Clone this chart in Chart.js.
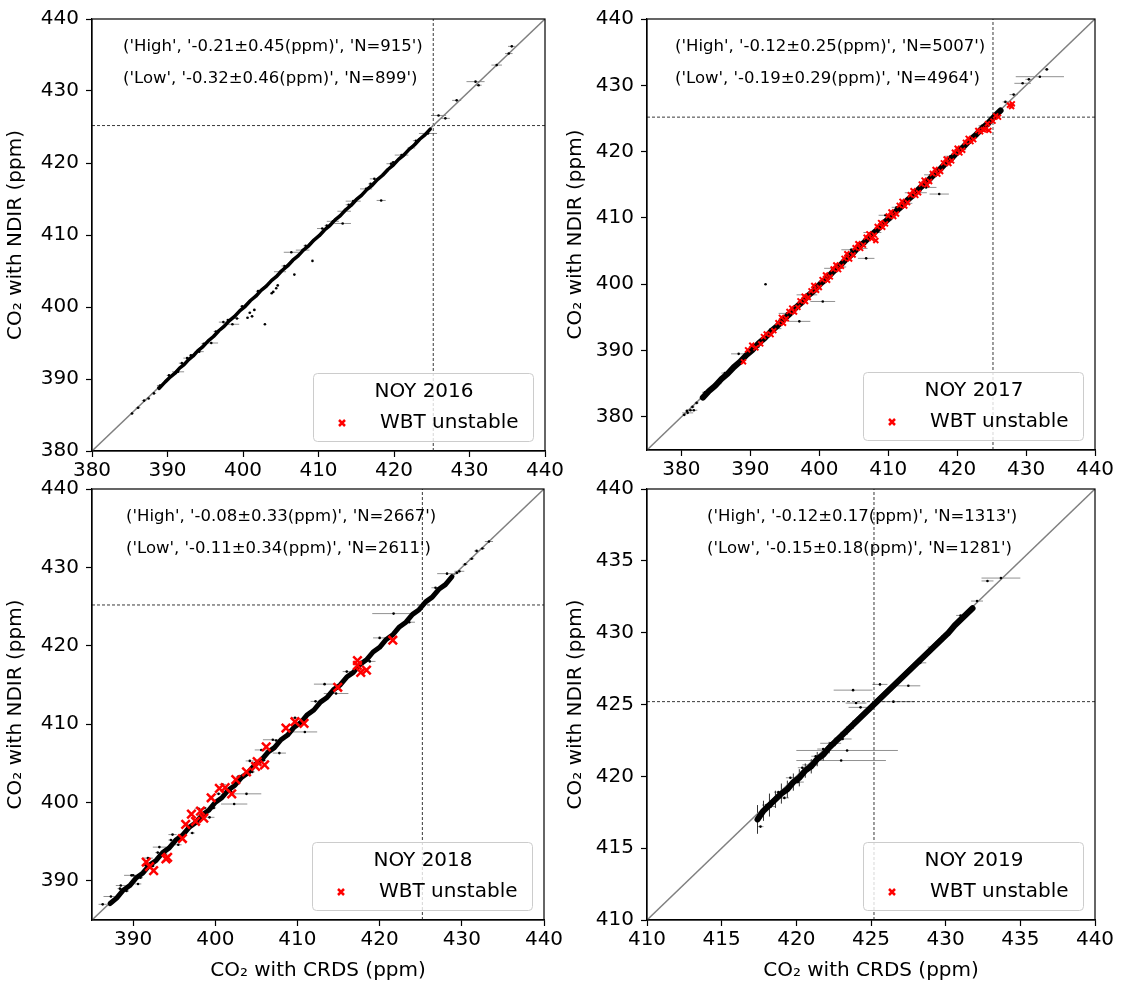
<!DOCTYPE html>
<html>
<head>
<meta charset="utf-8">
<script src="https://cdn.jsdelivr.net/npm/chart.js@4.4.1/dist/chart.umd.min.js"></script>
<style>
  body { margin: 0; background: #fff; }
  #fig { position: relative; width: 1125px; height: 987px; overflow: hidden; background: #fff; }
  canvas { position: absolute; }
</style>
</head>
<body>
<div id="fig">
  <canvas id="c2016" width="600" height="490" style="left:0px;top:0px"></canvas>
  <canvas id="c2017" width="565" height="490" style="left:560px;top:0px"></canvas>
  <canvas id="c2018" width="600" height="517" style="left:0px;top:470px"></canvas>
  <canvas id="c2019" width="565" height="517" style="left:560px;top:470px"></canvas>
</div>
<script>
// ---- dados ----
var titulos = ["NOY 2016", "NOY 2017", "NOY 2018", "NOY 2019"];
var linhaHigh = ["('High', '-0.21±0.45(ppm)', 'N=915')", "('High', '-0.12±0.25(ppm)', 'N=5007')",
                 "('High', '-0.08±0.33(ppm)', 'N=2667')", "('High', '-0.12±0.17(ppm)', 'N=1313')"];
var linhaLow = ["('Low', '-0.32±0.46(ppm)', 'N=899')", "('Low', '-0.19±0.29(ppm)', 'N=4964')",
                "('Low', '-0.11±0.34(ppm)', 'N=2611')", "('Low', '-0.15±0.18(ppm)', 'N=1281')"];
var eixoMin = [380, 375, 385, 410];
var eixoMax = [440, 440, 440, 440];
var ticks2016 = [380, 390, 400, 410, 420, 430, 440];
var ticks2017 = [380, 390, 400, 410, 420, 430, 440];
var ticks2018 = [390, 400, 410, 420, 430, 440];
var ticks2019 = [410, 415, 420, 425, 430, 435, 440];
var valorRef = 425.2;

// 2016
var banda2016X = [388.9,389.7,390.4,391.0,391.6,392.2,392.8,393.4,394.0,394.7,395.4,396.1,396.8,397.5,398.2,398.9,399.6,400.3,401.0,401.7,402.4,403.1,403.8,404.5,405.2,405.9,406.6,407.3,408.0,408.7,409.4,410.1,410.8,411.5,412.2,412.9,413.6,414.3,415.0,415.7,416.4,417.1,417.8,418.5,419.2,419.9,420.6,421.3,422.0,422.7,423.4,424.1,424.8];
var banda2016Y = [388.7,389.6,390.3,390.8,391.5,392.0,392.7,393.2,393.9,394.5,395.3,395.9,396.7,397.3,398.1,398.7,399.5,400.1,400.9,401.5,402.3,402.9,403.7,404.3,405.1,405.7,406.5,407.1,407.9,408.5,409.3,409.9,410.7,411.3,412.1,412.7,413.5,414.1,414.9,415.5,416.3,416.9,417.7,418.3,419.1,419.7,420.5,421.1,421.9,422.5,423.3,423.9,424.7];
var pts2016X = [385.3,386.1,386.9,387.5,388.2,388.8,389.0,390.2,391.4,391.9,392.6,393.1,394.2,394.8,395.8,396.4,397.4,398.0,398.6,399.2,399.9,400.6,400.9,401.2,401.5,402.0,402.9,403.8,404.0,404.4,404.6,404.9,405.5,406.4,406.8,407.9,408.3,409.2,410.5,411.1,411.9,413.2,413.4,414.0,414.6,416.3,416.9,417.4,418.3,419.6,419.9,421.0,422.3,422.9,424.5,425.9,426.8,428.3,430.8,431.2,433.6,435.2,435.6];
var pts2016Y = [385.2,386.0,387.0,387.3,388.0,388.8,389.1,390.5,391.0,392.2,392.9,393.3,393.8,394.9,395.0,396.6,397.9,398.2,397.6,398.4,400.1,398.5,399.2,398.7,399.6,402.2,397.6,401.9,402.1,402.6,403.0,404.9,405.7,407.6,404.5,407.9,408.5,406.4,410.9,411.3,411.9,411.6,413.3,414.2,414.7,416.4,417.1,417.8,414.8,419.9,420.1,421.1,422.1,423.1,424.1,426.6,426.2,428.7,431.3,430.8,433.6,435.2,436.2];
var pts2016Err = [0.2,0.3,0.3,0.2,0.3,0.2,0.4,0.3,0.8,0.4,0.5,0.2,0.6,0.3,0.9,0.3,0.6,0.2,0.9,0.3,0.3,0.2,0.2,0.2,0.2,0.3,0,0,0.2,0,0.2,0.8,0.4,1.0,0,0.9,0.3,0,0.7,0.3,0.8,1.1,0.9,0.4,1.0,0.8,0.3,0.6,0.6,0.6,0.3,0.9,0.5,0.4,1.2,1.0,0.6,0.6,1.2,0.4,0.7,0.5,0.5];
var wbt2016X = [];
var wbt2016Y = [];

// 2017
var banda2017X = [383.1,384.0,384.9,385.8,386.7,387.6,388.5,389.4,390.3,391.2,392.1,393.0,393.9,394.8,395.7,396.6,397.5,398.4,399.3,400.2,401.1,402.0,402.9,403.8,404.7,405.6,406.5,407.4,408.3,409.2,410.1,411.0,411.9,412.8,413.7,414.6,415.5,416.4,417.3,418.2,419.1,420.0,420.9,421.8,422.7,423.6,424.5,425.4,426.3];
var banda2017Y = [382.9,383.9,384.7,385.7,386.5,387.5,388.3,389.3,390.1,391.1,391.9,392.9,393.7,394.7,395.5,396.5,397.3,398.3,399.1,400.1,400.9,401.9,402.7,403.7,404.5,405.5,406.3,407.3,408.1,409.1,409.9,410.9,411.7,412.7,413.5,414.5,415.3,416.3,417.1,418.1,418.9,419.9,420.7,421.7,422.5,423.5,424.3,425.3,426.2];
var pts2017X = [380.4,380.8,380.9,381.3,381.6,381.8,382.2,383.4,385.2,386.3,388.3,390.8,392.2,393.6,395.3,397.1,398.2,400.5,402.0,403.1,404.6,405.8,406.8,407.7,409.6,411.2,412.6,414.0,415.5,416.2,417.4,419.0,420.6,422.1,423.6,427.0,428.2,429.5,430.4,432.0,433.0];
var pts2017Y = [380.3,380.9,380.6,381.0,381.5,381.0,382.1,383.7,385.0,386.6,389.5,390.5,400.0,393.3,395.6,394.4,398.4,397.4,402.4,402.6,405.2,405.4,403.9,407.8,410.4,411.6,412.2,413.8,414.6,416.5,413.6,419.3,420.3,422.0,423.9,427.5,428.6,430.3,430.9,431.3,432.4];
var pts2017Err = [0.3,0.3,0.8,0.3,0.3,0.5,0.3,0.4,0.6,0.5,1.1,0.6,0,0.9,1.2,1.6,1.5,1.8,1.3,0.8,1.4,1.2,1.2,1.3,1.0,0.7,0.9,1.6,1.5,1.0,1.4,0.8,0.7,0.6,0.5,0.4,0.6,1.2,0.5,3.5,0.3];
var wbt2017X = [389.0,389.6,390.2,390.8,391.5,391.9,392.3,393.0,393.4,394.0,394.5,394.8,395.2,395.6,396.0,396.4,396.9,397.2,397.8,398.0,398.4,398.8,399.2,399.6,400.0,400.4,400.9,401.2,401.6,402.0,402.4,402.8,403.2,403.6,404.0,404.4,404.9,405.2,405.6,406.0,406.4,406.8,407.2,407.6,408.0,408.2,408.4,408.9,409.2,409.6,410.0,410.4,410.8,411.2,411.6,412.0,412.4,412.8,413.2,413.6,414.0,414.4,414.8,415.2,415.6,416.0,416.4,416.8,417.2,417.6,418.0,418.4,418.8,419.2,419.6,420.0,420.4,420.8,421.2,421.6,422.0,422.4,423.0,423.4,423.8,424.1,424.4,424.6,425.2,425.6,426.0,427.6,427.9,428.0];
var wbt2017Y = [388.3,390.1,390.8,390.4,391.0,392.1,392.5,392.4,393.0,394.2,395.0,394.1,394.8,395.9,396.4,395.8,396.5,397.5,398.2,397.4,398.0,399.0,399.8,399.1,399.5,400.7,401.4,400.6,401.1,402.3,402.9,402.2,402.7,403.9,404.6,403.8,404.4,405.5,406.1,405.4,405.9,407.1,407.6,406.9,407.4,406.6,408.7,409.3,408.6,409.1,410.3,410.9,410.2,410.6,411.9,412.5,411.8,412.3,413.5,414.1,413.4,413.8,415.1,415.7,415.0,415.5,416.7,417.3,416.6,417.0,418.3,418.9,418.2,418.6,419.9,420.5,419.8,420.2,421.4,422.0,421.5,421.8,423.2,423.0,423.3,423.4,424.2,423.2,424.6,425.4,425.2,427.0,426.8,427.2];

// 2018
var banda2018X = [387.2,388.0,388.8,389.6,390.4,391.2,392.0,392.8,393.6,394.4,395.2,396.0,396.8,397.6,398.4,399.2,400.0,400.8,401.6,402.4,403.2,404.0,404.8,405.6,406.4,407.2,408.0,408.8,409.6,410.4,411.2,412.0,412.8,413.6,414.4,415.2,416.0,416.8,417.6,418.4,419.2,420.0,420.8,421.6,422.4,423.2,424.0,424.8,425.6,426.4,427.2,428.0,428.8];
var banda2018Y = [387.1,387.8,388.8,389.4,390.4,391.0,392.0,392.6,393.6,394.2,395.2,395.8,396.8,397.4,398.4,399.0,400.0,400.6,401.6,402.2,403.2,403.8,404.8,405.4,406.4,407.0,408.0,408.6,409.6,410.2,411.2,411.8,412.8,413.4,414.4,415.0,416.0,416.6,417.6,418.2,419.2,419.8,420.8,421.4,422.4,423.0,424.0,424.6,425.6,426.2,427.2,427.8,428.8];
var pts2018X = [386.3,387.3,388.4,388.5,389.2,389.8,390.0,390.6,390.9,391.5,391.8,392.4,393.0,393.2,393.9,394.6,394.8,395.5,395.8,396.5,397.2,397.9,398.0,398.7,399.3,399.8,400.4,400.9,401.9,402.3,402.8,403.8,404.2,404.5,405.6,405.9,407.0,407.4,407.8,409.7,410.9,412.2,413.3,414.7,416.0,418.8,420.0,421.7,423.6,426.8,428.2,429.4,429.7,430.4,431.2,431.8,432.5,433.3];
var pts2018Y = [387.0,388.0,389.0,389.4,388.7,390.7,390.7,389.6,390.4,392.0,392.9,391.9,393.6,394.3,393.4,395.2,395.9,394.6,395.3,397.1,396.1,397.4,399.2,399.3,398.1,399.3,401.1,402.3,401.4,399.8,403.3,401.1,405.3,403.9,406.7,405.4,408.0,407.9,406.3,410.8,409.0,412.9,415.1,413.9,416.7,418.0,421.0,424.1,423.0,427.4,429.2,429.3,429.5,430.4,431.1,432.1,432.4,433.3];
var pts2018Err = [0.5,0.9,0.3,0.6,0.3,0.9,0.3,0.4,0.3,0.3,0.6,0.3,0.3,0.8,0.3,0.3,0.5,0.4,0.3,0.3,0.3,0.3,0.5,0.3,0.6,0.3,0.3,0.4,0.3,1.6,0.3,1.8,0.5,0.3,0.8,0.3,1.2,0.3,0.8,0.5,1.5,0.6,1.3,1.5,0.5,0.7,0.8,2.6,0.7,0.5,1.2,0.3,0.6,0.3,0.3,0.3,0.3,0.5];
var wbt2018X = [391.6,392.0,392.5,394.0,394.2,396.0,396.4,397.1,397.6,398.2,398.6,399.5,400.5,401.2,402.0,402.5,403.8,404.9,405.1,406.0,406.2,408.6,409.7,410.8,414.9,417.3,417.3,417.7,418.4,421.6];
var wbt2018Y = [392.4,391.8,391.3,392.8,393.0,395.4,397.2,398.5,397.6,398.9,398.0,400.6,401.8,401.9,401.1,402.9,403.9,404.6,405.2,404.8,407.1,409.5,410.3,410.1,414.7,418.1,417.5,416.6,416.9,420.7];

// 2019
var banda2019X = [417.4,417.8,418.2,418.6,419.0,419.4,419.8,420.2,420.6,421.0,421.4,421.8,422.2,422.6,423.0,423.4,423.8,424.2,424.6,425.0,425.4,425.8,426.2,426.6,427.0,427.4,427.8,428.2,428.6,429.0,429.4,429.8,430.2,430.6,431.0,431.4,431.8];
var banda2019Y = [417.0,417.6,418.0,418.4,418.8,419.1,419.6,419.9,420.4,420.7,421.2,421.5,422.0,422.4,422.8,423.2,423.6,424.0,424.4,424.8,425.2,425.6,426.0,426.4,426.8,427.2,427.6,428.0,428.4,428.8,429.2,429.6,430.0,430.5,430.9,431.3,431.7];
var banda2019ErrY = [1.0,0.7,0.8,0.6,0.7,0.6,0.6,0.6,0.5,0.5,0.5,0.4,0.4,0.3,0.3,0.3,0.3,0.2,0.2,0.2,0.2,0.2,0.2,0.2,0.2,0.2,0.2,0.2,0.2,0.2,0.2,0.2,0.1,0.1,0.1,0.1,0.1];
var pts2019X = [417.6,418.0,418.3,418.8,419.2,419.6,420.1,420.4,420.9,421.3,421.8,422.3,423.1,423.4,423.0,423.8,424.3,424.0,425.6,426.5,427.5,428.3,429.1,430.0,431.0,432.1,432.8,433.7];
var pts2019Y = [416.5,418.0,417.9,418.9,418.5,419.9,419.6,420.6,420.8,421.4,421.9,422.3,422.6,421.8,421.1,426.0,424.8,425.1,426.4,425.2,426.3,427.9,429.0,429.8,431.2,432.2,433.6,433.8];
var pts2019Err = [0.2,0.3,0.3,0.3,0.3,0.3,0.4,0.3,0.5,0.3,0.4,0.7,0.6,3.4,3.0,1.3,0.8,0.7,0.5,1.4,0.8,0.4,0.3,0.3,0.3,0.4,0.4,1.3];
var wbt2019X = [];
var wbt2019Y = [];

Chart.defaults.font.family = "'DejaVu Sans', sans-serif";
Chart.defaults.color = "#000";

function juntar(xs, ys) {
  var pts = [];
  for (var i = 0; i < xs.length; i++) pts.push({ x: xs[i], y: ys[i] });
  return pts;
}

// desenha barras de erro, moldura, texto e legenda
var painel = {
  id: "painel",
  beforeDatasetsDraw: function (chart) {
    var ctx = chart.ctx, a = chart.chartArea;
    var sx = chart.scales.x, sy = chart.scales.y;
    ctx.save();
    ctx.beginPath();
    ctx.rect(a.left, a.top, a.right - a.left, a.bottom - a.top);
    ctx.clip();
    chart.data.datasets.forEach(function (ds) {
      ds.data.forEach(function (p, i) {
        var px = sx.getPixelForValue(p.x), py = sy.getPixelForValue(p.y);
        if (ds.xErr && ds.xErr[i] > 0) {
          ctx.strokeStyle = "rgba(0,0,0,0.55)";
          ctx.lineWidth = 0.8;
          ctx.beginPath();
          ctx.moveTo(sx.getPixelForValue(p.x - ds.xErr[i]), py);
          ctx.lineTo(sx.getPixelForValue(p.x + ds.xErr[i]), py);
          ctx.stroke();
        }
        if (ds.yErr && ds.yErr[i] > 0) {
          ctx.strokeStyle = "rgba(0,0,0,0.8)";
          ctx.lineWidth = 1;
          ctx.beginPath();
          ctx.moveTo(px, sy.getPixelForValue(p.y - ds.yErr[i]));
          ctx.lineTo(px, sy.getPixelForValue(p.y + ds.yErr[i]));
          ctx.stroke();
        }
      });
    });
    ctx.restore();
  },
  afterDatasetsDraw: function (chart, args, opts) {
    var ctx = chart.ctx, a = chart.chartArea;
    ctx.save();
    // moldura
    ctx.strokeStyle = "#000";
    ctx.lineWidth = 1.2;
    ctx.strokeRect(a.left, a.top, a.right - a.left, a.bottom - a.top);
    // texto das estatisticas
    ctx.fillStyle = "#000";
    ctx.font = "16.5px 'DejaVu Sans'";
    ctx.textAlign = "left";
    ctx.textBaseline = "middle";
    ctx.fillText(opts.high, a.left + opts.dx, a.top + 28);
    ctx.fillText(opts.low, a.left + opts.dx, a.top + 60);
    // legenda
    var w = 220, h = 68;
    var bx = a.right - 12 - w, by = a.bottom - 10 - h;
    ctx.beginPath();
    ctx.roundRect(bx + 0.5, by + 0.5, w, h, 4);
    ctx.fillStyle = "rgba(255,255,255,0.8)";
    ctx.fill();
    ctx.strokeStyle = "#cccccc";
    ctx.lineWidth = 1;
    ctx.stroke();
    ctx.fillStyle = "#000";
    ctx.font = "20px 'DejaVu Sans'";
    ctx.textAlign = "center";
    ctx.fillText(opts.titulo, bx + w / 2 + 1, by + 19);
    ctx.textAlign = "left";
    ctx.fillText(opts.rotulo, bx + 67, by + 50);
    var mx = bx + 29, my = by + 50;
    ctx.strokeStyle = "#ff0000";
    ctx.lineWidth = 2.5;
    ctx.beginPath();
    ctx.moveTo(mx - 3, my - 3); ctx.lineTo(mx + 3, my + 3);
    ctx.moveTo(mx - 3, my + 3); ctx.lineTo(mx + 3, my - 3);
    ctx.stroke();
    ctx.restore();
  }
};

function eixo(min, max, ticks, tamanho, titulo, mostrarTitulo, vertical) {
  return {
    type: "linear",
    min: min,
    max: max,
    afterBuildTicks: function (s) { s.ticks = ticks.map(function (v) { return { value: v }; }); },
    afterFit: function (s) { if (vertical) s.width = tamanho; else s.height = tamanho; },
    grid: { drawOnChartArea: false, drawTicks: true, tickLength: 6, color: "#000", tickWidth: 1.2 },
    border: { display: true, color: "#000", width: 1.2 },
    ticks: { font: { size: 20 }, color: "#000", padding: vertical ? 7 : 2, maxRotation: 0, autoSkip: false },
    title: { display: mostrarTitulo, text: titulo, font: { size: 20 }, color: "#000", padding: { top: 4, bottom: 4 } }
  };
}

function plotarPainel(cfg) {
  var min = eixoMin[cfg.i], max = eixoMax[cfg.i];
  var datasets = [
    {
      label: "WBT unstable",
      data: juntar(cfg.wbtX, cfg.wbtY),
      pointStyle: "crossRot",
      pointRadius: cfg.raioX,
      borderColor: "#ff0000",
      backgroundColor: "#ff0000",
      pointBorderWidth: cfg.espX
    },
    {
      label: "pontos",
      data: juntar(cfg.ptsX, cfg.ptsY),
      xErr: cfg.ptsErr,
      pointRadius: 1.3,
      backgroundColor: "#000",
      borderColor: "#000",
      borderWidth: 0
    },
    {
      label: "banda",
      data: juntar(cfg.bandaX, cfg.bandaY),
      yErr: cfg.bandaErrY,
      showLine: true,
      borderColor: "#000",
      borderWidth: cfg.larguraBanda,
      borderJoinStyle: "round",
      borderCapStyle: "round",
      pointRadius: 0
    },
    {
      label: "1:1",
      data: [{ x: min, y: min }, { x: max, y: max }],
      showLine: true,
      borderColor: "#808080",
      borderWidth: 1.5,
      pointRadius: 0
    },
    {
      label: "ref x",
      data: [{ x: valorRef, y: min }, { x: valorRef, y: max }],
      showLine: true,
      borderColor: "#222",
      borderWidth: 0.9,
      borderDash: [3, 2],
      pointRadius: 0
    },
    {
      label: "ref y",
      data: [{ x: min, y: valorRef }, { x: max, y: valorRef }],
      showLine: true,
      borderColor: "#222",
      borderWidth: 0.9,
      borderDash: [3, 2],
      pointRadius: 0
    }
  ];

  new Chart(document.getElementById(cfg.id), {
    type: "scatter",
    data: { datasets: datasets },
    options: {
      responsive: false,
      animation: false,
      events: [],
      layout: { padding: { left: 0, top: 15, right: cfg.padDir, bottom: 0 } },
      plugins: {
        legend: { display: false },
        tooltip: { enabled: false },
        painel: { high: linhaHigh[cfg.i], low: linhaLow[cfg.i], dx: cfg.dx, titulo: titulos[cfg.i], rotulo: "WBT unstable" }
      },
      scales: {
        x: eixo(min, max, cfg.ticks, cfg.altX, "CO₂ with CRDS (ppm)", cfg.tituloX, false),
        y: eixo(min, max, cfg.ticks, cfg.largY, "CO₂ with NDIR (ppm)", true, true)
      }
    },
    plugins: [painel]
  });
}

plotarPainel({ id: "c2016", i: 0, ticks: ticks2016, bandaX: banda2016X, bandaY: banda2016Y, bandaErrY: null,
  ptsX: pts2016X, ptsY: pts2016Y, ptsErr: pts2016Err, wbtX: wbt2016X, wbtY: wbt2016Y,
  larguraBanda: 3.5, raioX: 4, espX: 2.5, largY: 92, altX: 39, padDir: 55, tituloX: false, dx: 31 });
plotarPainel({ id: "c2017", i: 1, ticks: ticks2017, bandaX: banda2017X, bandaY: banda2017Y, bandaErrY: null,
  ptsX: pts2017X, ptsY: pts2017Y, ptsErr: pts2017Err, wbtX: wbt2017X, wbtY: wbt2017Y,
  larguraBanda: 6, raioX: 3.5, espX: 2, largY: 87, altX: 40, padDir: 30, tituloX: false, dx: 28 });
plotarPainel({ id: "c2018", i: 2, ticks: ticks2018, bandaX: banda2018X, bandaY: banda2018Y, bandaErrY: null,
  ptsX: pts2018X, ptsY: pts2018Y, ptsErr: pts2018Err, wbtX: wbt2018X, wbtY: wbt2018Y,
  larguraBanda: 5, raioX: 6, espX: 2.5, largY: 92, altX: 67, padDir: 56, tituloX: true, dx: 34 });
plotarPainel({ id: "c2019", i: 3, ticks: ticks2019, bandaX: banda2019X, bandaY: banda2019Y, bandaErrY: banda2019ErrY,
  ptsX: pts2019X, ptsY: pts2019Y, ptsErr: pts2019Err, wbtX: wbt2019X, wbtY: wbt2019Y,
  larguraBanda: 6, raioX: 4.5, espX: 2.5, largY: 87, altX: 67, padDir: 30, tituloX: true, dx: 60 });
</script>
</body>
</html>
